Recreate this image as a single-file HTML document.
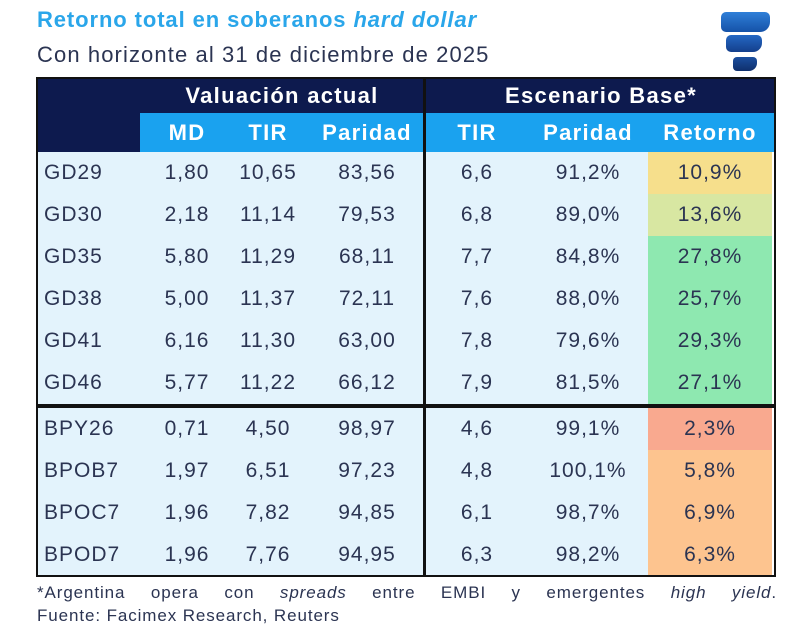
<!DOCTYPE html>
<html><head><meta charset="utf-8"><style>
body{margin:0;width:800px;height:644px;background:#fff;position:relative;overflow:hidden;font-family:"Liberation Sans",sans-serif;color:#2b3452}
.a{position:absolute}
.t{font-weight:bold;text-align:center;white-space:nowrap}
.c{position:absolute;text-align:center;font-size:21px;letter-spacing:1px;line-height:42px;white-space:nowrap}
</style></head><body>
<div class="a" style="left:37px;top:7px;font-size:22px;letter-spacing:0.9px;font-weight:bold;color:#2aa6ea">Retorno total en soberanos <i>hard dollar</i></div>
<div class="a" style="left:37px;top:42px;font-size:22px;letter-spacing:1.1px;color:#2b3452">Con horizonte al 31 de diciembre de 2025</div>
<div class="a" style="left:720px;top:11px;width:56px;height:62px">
 <div class="a" style="left:1px;top:1px;width:49px;height:20px;border-radius:5px 5px 10px 5px;background:linear-gradient(#2f7fd8,#1552a8)"></div>
 <div class="a" style="left:6px;top:24px;width:36px;height:17px;border-radius:5px 5px 9px 5px;background:linear-gradient(#2568c4,#143f8c)"></div>
 <div class="a" style="left:13px;top:46px;width:24px;height:14px;border-radius:4px 4px 8px 4px;background:linear-gradient(#1b4fa0,#0f2f6c)"></div>
</div>
<div class="a" style="left:36px;top:77px;width:740px;height:75px;background:#0d1a4e"></div>
<div class="a" style="left:140px;top:113px;width:636px;height:39px;background:#1aa2ef"></div>
<div class="a t" style="left:140px;top:83px;width:284px;font-size:22px;letter-spacing:1.3px;color:#fff">Valuación actual</div>
<div class="a t" style="left:426px;top:83px;width:350px;font-size:22px;letter-spacing:1.3px;color:#fff">Escenario Base*</div>
<div id="tbl"></div>
<div class="a" style="left:37px;top:583px;width:740px;font-size:17px;letter-spacing:0.9px;text-align:justify;text-align-last:justify;white-space:nowrap">*Argentina opera con <i>spreads</i> entre EMBI y emergentes <i>high yield</i>.</div>
<div class="a" style="left:37px;top:606px;font-size:17px;letter-spacing:0.9px">Fuente: Facimex Research, Reuters</div>
<script>
const headers=["MD","TIR","Paridad","TIR","Paridad","Retorno"];
const bonds=["GD29","GD30","GD35","GD38","GD41","GD46","BPY26","BPOB7","BPOC7","BPOD7"];
const md=["1,80","2,18","5,80","5,00","6,16","5,77","0,71","1,97","1,96","1,96"];
const tir=["10,65","11,14","11,29","11,37","11,30","11,22","4,50","6,51","7,82","7,76"];
const paridad=["83,56","79,53","68,11","72,11","63,00","66,12","98,97","97,23","94,85","94,95"];
const tirBase=["6,6","6,8","7,7","7,6","7,8","7,9","4,6","4,8","6,1","6,3"];
const paridadBase=["91,2%","89,0%","84,8%","88,0%","79,6%","81,5%","99,1%","100,1%","98,7%","98,2%"];
const retorno=[10.9,13.6,27.8,25.7,29.3,27.1,2.3,5.8,6.9,6.3];
const cols=[{l:36,w:104},{l:140,w:94},{l:228,w:80},{l:308,w:118},{l:426,w:102},{l:528,w:120},{l:648,w:124}];
function retColor(v){
  if(v<4)return"#f9a98f";if(v<8)return"#fdc48f";if(v<12)return"#f6df8c";if(v<20)return"#d8e7a2";return"#8ee8b0";}
const tbl=document.getElementById('tbl');
function mk(cls,name,l,t,w,h,txt,st){
  const d=document.createElement('div');d.className=cls;
  
  
  d.style.cssText=`left:${l}px;top:${t}px;width:${w}px;height:${h}px;`+(st||'');
  if(txt!=null)d.innerHTML=txt;tbl.appendChild(d);return d;}
headers.forEach((h,i)=>{const c=cols[i+1];
  mk('a t','column-header',c.l,116,c.w,34,h,'font-size:22px;letter-spacing:1.3px;color:#fff;line-height:34px');});
mk('a','body-bg-left',38,152,386,424,null,'background:#e3f3fc');
mk('a','body-bg-right',426,152,222,424,null,'background:#e3f3fc');
function rowTop(i){return i<6?152+i*42:408+(i-6)*42;}
bonds.forEach((b,i)=>{const y=rowTop(i);
  mk('a','retorno-cell-bg',648,y,124,42,null,'background:'+retColor(retorno[i]));
  const vals=[b,md[i],tir[i],paridad[i],tirBase[i],paridadBase[i],retorno[i].toFixed(1).replace('.',',')+'%'];
  vals.forEach((v,j)=>{const c=cols[j];
    const e=mk('c',j==0?'bond-label':'cell-value',j==0?c.l+8:c.l,y,j==0?c.w-8:c.w,42,v);
    if(j==0)e.style.textAlign='left';});
});
mk('a','table-border',36,77,740,500,null,'box-sizing:border-box;border:2px solid #111');
mk('a','group-divider',423,77,3,500,null,'background:#111');
mk('a','group-separator',36,404,740,4,null,'background:#111');
</script>
</body></html>
